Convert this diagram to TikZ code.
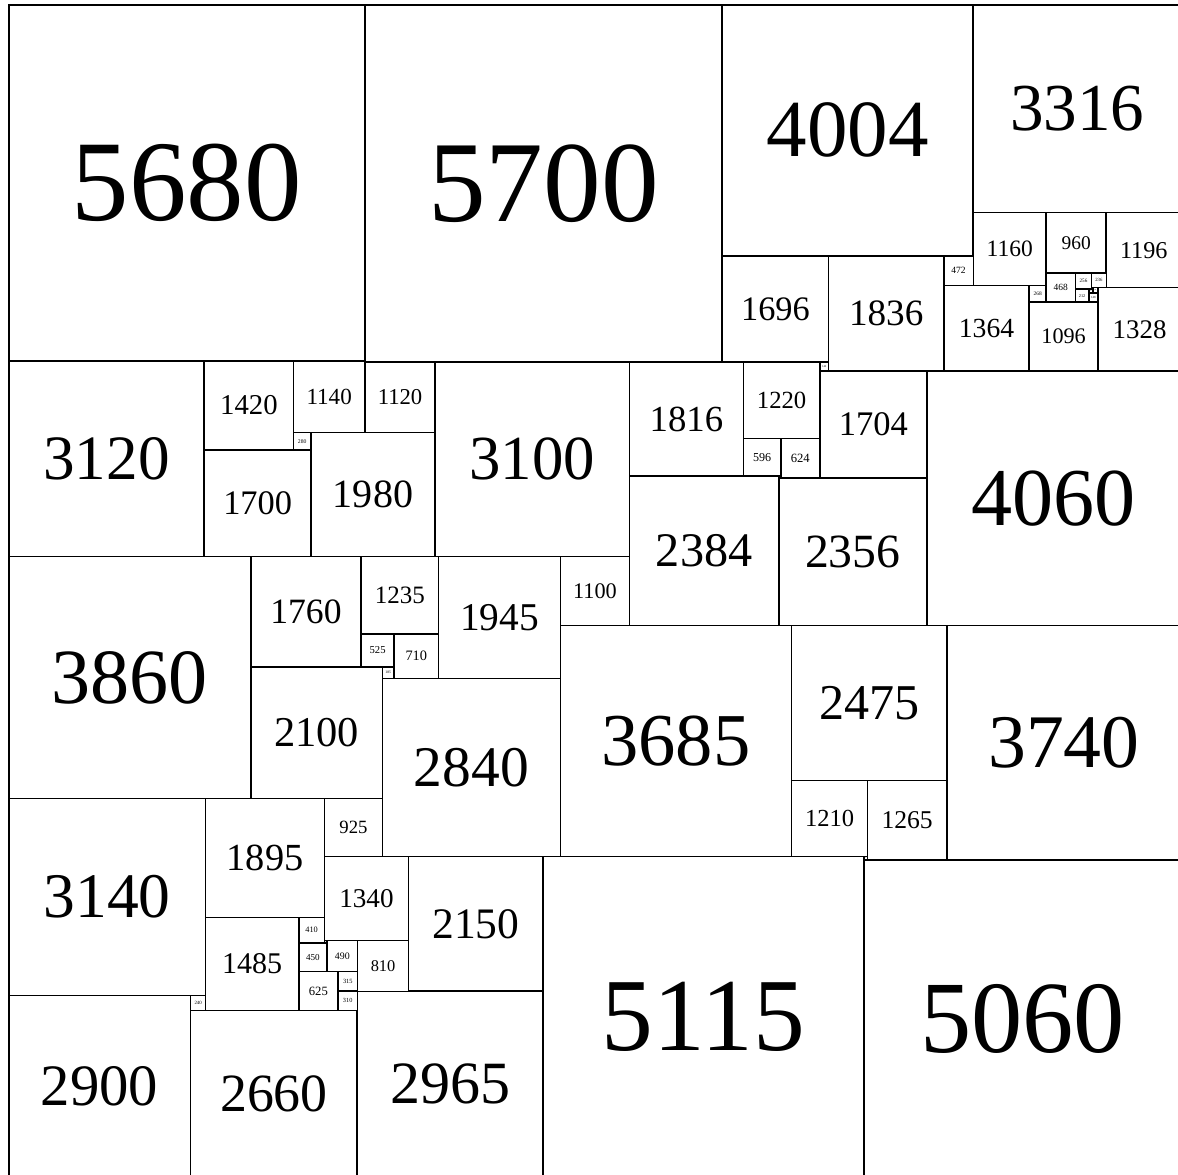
\documentclass[tikz,border=0pt]{standalone}
\usepackage{fontspec}
\setmainfont{Liberation Serif}
\usepackage{tikz}
\newcommand\sqfont[1]{\pgfmathsetmacro\sqsize{#1*0.00919}%
  \fontsize{\sqsize pt}{\sqsize pt}\selectfont}

\begin{document}
\begin{tikzpicture}[
    x=1cm,y=-1cm,
    sq/.style = {draw, line width=0.7pt, anchor=north west, inner sep=0pt,
                 minimum size=#1*0.01mm, font=\sqfont{#1}},
  ]
  \useasboundingbox (-0.128,-0.064) rectangle (18.66,18.676);

  \node[sq=5680] (s5680) at (0,0)          {5680};
  \node[sq=5700] (s5700) at (5.68,0)       {5700};
  \node[sq=4004] (s4004) at (11.38,0)      {4004};
  \node[sq=3316] (s3316) at (15.384,0)     {3316};
  \node[sq=1160] (s1160) at (15.384,3.316) {1160};
  \node[sq=960]  (s960)  at (16.544,3.316) {960};
  \node[sq=1196] (s1196) at (17.504,3.316) {1196};
  \node[sq=1696] (s1696) at (11.38,4.004)  {1696};
  \node[sq=1836] (s1836) at (13.076,4.004) {1836};
  \node[sq=472]  (s472)  at (14.912,4.004) {472};
  \node[sq=1364] (s1364) at (14.912,4.476) {1364};
  \node[sq=268]  (s268)  at (16.276,4.476) {268};
  \node[sq=468]  (s468)  at (16.544,4.276) {468};
  \node[sq=256]  (s256)  at (17.012,4.276) {256};
  \node[sq=236]  (s236)  at (17.268,4.276) {236};
  \node[sq=212]  (s212)  at (17.012,4.532) {212};
  \node[sq=20]   (s20)   at (17.268,4.512) {20};
  \node[sq=64]   (s64)   at (17.224,4.532) {64};
  \node[sq=84]   (s84)   at (17.288,4.512) {84};
  \node[sq=148]  (s148)  at (17.224,4.596) {148};
  \node[sq=1096] (s1096) at (16.276,4.744) {1096};
  \node[sq=1328] (s1328) at (17.372,4.512) {1328};

  \node[sq=3120] (s3120) at (0,5.68)       {3120};
  \node[sq=1420] (s1420) at (3.12,5.68)    {1420};
  \node[sq=1140] (s1140) at (4.54,5.68)    {1140};
  \node[sq=280]  (s280)  at (4.54,6.82)    {280};
  \node[sq=1700] (s1700) at (3.12,7.1)     {1700};
  \node[sq=1980] (s1980) at (4.82,6.82)    {1980};
  \node[sq=1120] (s1120) at (5.68,5.7)     {1120};
  \node[sq=3100] (s3100) at (6.8,5.7)      {3100};
  \node[sq=1816] (s1816) at (9.9,5.7)      {1816};
  \node[sq=1220] (s1220) at (11.716,5.7)   {1220};
  \node[sq=596]  (s596)  at (11.716,6.92)  {596};
  \node[sq=624]  (s624)  at (12.312,6.92)  {624};
  \node[sq=140]  (s140)  at (12.936,5.7)   {140};
  \node[sq=1704] (s1704) at (12.936,5.84)  {1704};
  \node[sq=28]   (s28)   at (12.284,7.516) {28};
  \node[sq=4060] (s4060) at (14.64,5.84)   {4060};
  \node[sq=2384] (s2384) at (9.9,7.516)    {2384};
  \node[sq=2356] (s2356) at (12.284,7.544) {2356};

  \node[sq=3860] (s3860) at (0,8.8)        {3860};
  \node[sq=1760] (s1760) at (3.86,8.8)     {1760};
  \node[sq=1235] (s1235) at (5.62,8.8)     {1235};
  \node[sq=525]  (s525)  at (5.62,10.035)  {525};
  \node[sq=710]  (s710)  at (6.145,10.035) {710};
  \node[sq=185]  (s185)  at (5.96,10.56)   {185};
  \node[sq=1945] (s1945) at (6.855,8.8)    {1945};
  \node[sq=1100] (s1100) at (8.8,8.8)      {1100};
  \node[sq=2100] (s2100) at (3.86,10.56)   {2100};
  \node[sq=2840] (s2840) at (5.96,10.745)  {2840};
  \node[sq=3685] (s3685) at (8.8,9.9)      {3685};
  \node[sq=2475] (s2475) at (12.485,9.9)   {2475};
  \node[sq=1210] (s1210) at (12.485,12.375) {1210};
  \node[sq=1265] (s1265) at (13.695,12.375) {1265};
  \node[sq=3740] (s3740) at (14.96,9.9)    {3740};

  \node[sq=3140] (s3140) at (0,12.66)      {3140};
  \node[sq=1895] (s1895) at (3.14,12.66)   {1895};
  \node[sq=925]  (s925)  at (5.035,12.66)  {925};
  \node[sq=1340] (s1340) at (5.035,13.585) {1340};
  \node[sq=2150] (s2150) at (6.375,13.585) {2150};
  \node[sq=5115] (s5115) at (8.525,13.585) {5115};
  \node[sq=55]   (s55)   at (13.64,13.585) {55};
  \node[sq=5060] (s5060) at (13.64,13.64)  {5060};
  \node[sq=1485] (s1485) at (3.14,14.555)  {1485};
  \node[sq=410]  (s410)  at (4.625,14.555) {410};
  \node[sq=40]   (s40)   at (5.035,14.925) {40};
  \node[sq=450]  (s450)  at (4.625,14.965) {450};
  \node[sq=490]  (s490)  at (5.075,14.925) {490};
  \node[sq=810]  (s810)  at (5.565,14.925) {810};
  \node[sq=625]  (s625)  at (4.625,15.415) {625};
  \node[sq=315]  (s315)  at (5.25,15.415)  {315};
  \node[sq=310]  (s310)  at (5.25,15.73)   {310};
  \node[sq=5]    (s5)    at (5.56,15.73)   {5};
  \node[sq=2900] (s2900) at (0,15.8)       {2900};
  \node[sq=240]  (s240)  at (2.9,15.8)     {240};
  \node[sq=2660] (s2660) at (2.9,16.04)    {2660};
  \node[sq=2965] (s2965) at (5.56,15.735)  {2965};

\end{tikzpicture}
\end{document}
